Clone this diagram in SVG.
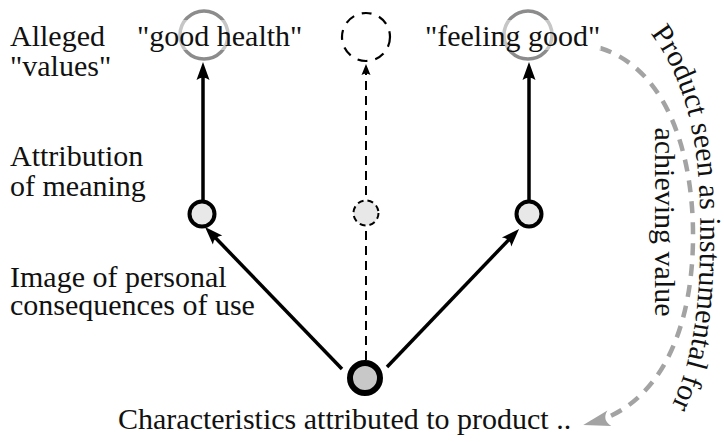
<svg xmlns="http://www.w3.org/2000/svg" width="724" height="442" viewBox="0 0 724 442">
<style>
text{font-family:"Liberation Serif","Times New Roman",serif;font-size:30px;fill:#111}
.val{fill:none;stroke:#8c8c8c;stroke-width:3.5}
.mid{fill:#e8e8e8;stroke:#000;stroke-width:4}
.dash{stroke-dasharray:9 6}
.edge{stroke:#000;stroke-width:3.5;fill:none}
.dedge{stroke:#000;stroke-width:2;fill:none;stroke-dasharray:9 6}
.gedge{stroke:#a3a3a3;stroke-width:4.5;fill:none;stroke-dasharray:12 9}
</style>
<defs>
<marker id="ah" viewBox="-20 -8 22 16" refX="-6" refY="0" markerWidth="22" markerHeight="16" markerUnits="userSpaceOnUse" orient="auto">
<path d="M0,0 L-18,-6.5 Q-13,0 -18,6.5 Z" fill="#000"/>
</marker>
<marker id="ahs" viewBox="-12 -6 14 12" refX="-4" refY="0" markerWidth="14" markerHeight="12" markerUnits="userSpaceOnUse" orient="auto">
<path d="M0,0 L-11,-4.5 Q-8,0 -11,4.5 Z" fill="#000"/>
</marker>
<marker id="ahg" viewBox="-30 -9 32 18" refX="-8" refY="0" markerWidth="32" markerHeight="18" markerUnits="userSpaceOnUse" orient="auto">
<path d="M0,0 L-27,-8 Q-19,0 -27,8 Z" fill="#a3a3a3"/>
</marker>
<path id="arcText" d="M648 30 C695 90 702 170 700 250 C699 320 690 375 662 425"/>
</defs>

<g id="labels">
<text x="10" y="46">Alleged</text>
<text x="10" y="76">"values"</text>
<text x="10" y="166">Attribution</text>
<text x="10" y="196">of meaning</text>
<text x="10" y="287">Image of personal</text>
<text x="10" y="315">consequences of use</text>
</g>

<g id="connectors">
<line class="edge" x1="203" y1="202" x2="203" y2="68" marker-end="url(#ah)"/>
<line class="edge" x1="529" y1="202" x2="529" y2="68" marker-end="url(#ah)"/>
<line class="edge" x1="342" y1="369" x2="209.2" y2="231.3" marker-end="url(#ah)"/>
<line class="edge" x1="387" y1="367" x2="514.9" y2="233.3" marker-end="url(#ah)"/>
<line class="dedge" x1="366" y1="360" x2="366" y2="68" marker-end="url(#ahs)"/>
<path class="gedge" d="M600 48 C670 70 694 160 693 240 C692 330 660 405 591 423" marker-end="url(#ahg)"/>
</g>

<g id="value-good-health">
<circle class="val" cx="204" cy="35" r="24"/>
<rect x="137" y="20" width="166" height="30" fill="#fff" fill-opacity="0.5"/>
<text x="137" y="46">"good health"</text>
</g>
<g id="value-hidden">
<circle cx="366" cy="37" r="24" fill="none" stroke="#000" stroke-width="2.2" stroke-dasharray="10 8"/>
</g>
<g id="value-feeling-good">
<circle class="val" cx="528" cy="35" r="24"/>
<rect x="425" y="20" width="176" height="30" fill="#fff" fill-opacity="0.5"/>
<text x="425" y="46">"feeling good"</text>
</g>

<g id="meaning-left"><circle class="mid" cx="202" cy="214" r="12.5"/></g>
<g id="meaning-middle"><circle cx="366" cy="213" r="12.5" fill="#e8e8e8" stroke="#000" stroke-width="2" stroke-dasharray="6 4"/></g>
<g id="meaning-right"><circle class="mid" cx="529" cy="214" r="12.5"/></g>

<g id="product">
<circle cx="365" cy="378" r="15" fill="#c8c8c8" stroke="#000" stroke-width="6"/>
<text x="118" y="429">Characteristics attributed to product ..</text>
</g>

<g id="instrumental-label">
<text><textPath href="#arcText" startOffset="4">Product seen as instrumental for</textPath></text>
<text x="0" y="0" text-anchor="middle" transform="translate(655 222) rotate(90)">achieving value</text>
</g>
</svg>
